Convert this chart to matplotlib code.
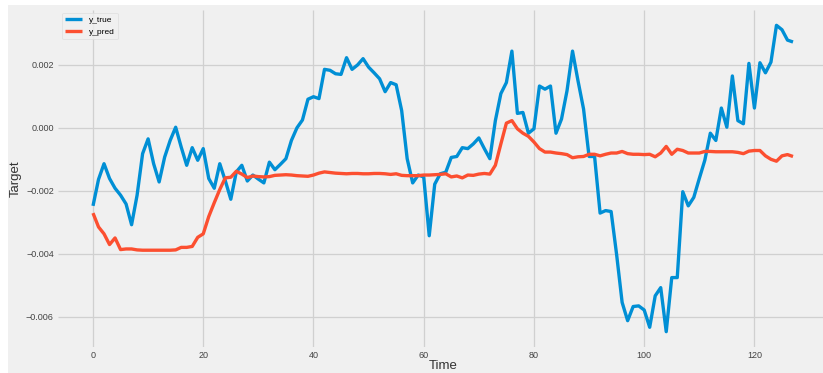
import numpy as np
import matplotlib
matplotlib.use("Agg")
import matplotlib.pyplot as plt
from matplotlib.patches import Rectangle

plt.style.use("fivethirtyeight")
plt.rcParams["font.family"] = ["Liberation Sans", "DejaVu Sans"]

# values, in units of 1e-3
y_true = np.array([
    -2.48, -1.64, -1.14, -1.61, -1.92, -2.14, -2.42, -3.08, -2.14, -0.82,
    -0.35, -1.14, -1.72, -0.93, -0.40, 0.02, -0.61, -1.19, -0.63, -1.03,
    -0.66, -1.61, -1.92, -1.14, -1.68, -2.27, -1.40, -1.19, -1.69, -1.50,
    -1.63, -1.75, -1.09, -1.33, -1.16, -0.98, -0.40, 0.00, 0.25, 0.91,
    0.99, 0.93, 1.86, 1.83, 1.72, 1.70, 2.23, 1.86, 2.00, 2.20,
    1.93, 1.75, 1.56, 1.15, 1.44, 1.37, 0.55, -0.98, -1.75, -1.50,
    -1.56, -3.43, -1.79, -1.46, -1.41, -0.94, -0.91, -0.63, -0.66, -0.51,
    -0.32, -0.66, -0.98, 0.23, 1.09, 1.44, 2.44, 0.46, 0.49, -0.17,
    -0.03, 1.33, 1.23, 1.33, -0.17, 0.28, 1.18, 2.44, 1.49, 0.60,
    -0.91, -0.91, -2.71, -2.63, -2.66, -4.03, -5.55, -6.13, -5.68, -5.66,
    -5.79, -6.34, -5.34, -5.08, -6.48, -4.76, -4.76, -2.03, -2.48, -2.21,
    -1.61, -1.03, -0.17, -0.40, 0.63, 0.02, 1.65, 0.23, 0.13, 2.05,
    0.63, 2.07, 1.75, 2.09, 3.26, 3.12, 2.79, 2.73,
]) * 1e-3

y_pred = np.array([
    -2.71, -3.15, -3.37, -3.71, -3.50, -3.87, -3.85, -3.85, -3.88, -3.89,
    -3.89, -3.89, -3.89, -3.89, -3.89, -3.88, -3.80, -3.80, -3.77, -3.48,
    -3.37, -2.82, -2.38, -1.96, -1.59, -1.57, -1.38, -1.47, -1.58, -1.53,
    -1.55, -1.56, -1.55, -1.51, -1.50, -1.49, -1.50, -1.52, -1.53, -1.54,
    -1.50, -1.44, -1.40, -1.42, -1.44, -1.45, -1.46, -1.45, -1.45, -1.46,
    -1.46, -1.45, -1.45, -1.46, -1.48, -1.46, -1.51, -1.52, -1.52, -1.52,
    -1.50, -1.50, -1.49, -1.48, -1.46, -1.56, -1.53, -1.59, -1.50, -1.51,
    -1.47, -1.45, -1.47, -1.19, -0.51, 0.15, 0.23, -0.03, -0.17, -0.27,
    -0.45, -0.66, -0.77, -0.77, -0.80, -0.82, -0.85, -0.95, -0.92, -0.91,
    -0.84, -0.84, -0.89, -0.84, -0.80, -0.80, -0.75, -0.82, -0.84, -0.84,
    -0.85, -0.84, -0.92, -0.80, -0.59, -0.84, -0.68, -0.72, -0.80, -0.80,
    -0.80, -0.75, -0.75, -0.76, -0.76, -0.76, -0.76, -0.78, -0.82, -0.74,
    -0.72, -0.72, -0.89, -1.00, -1.06, -0.89, -0.85, -0.91,
]) * 1e-3

t = np.arange(len(y_true))

W, H = 823, 373
fig = plt.figure(figsize=(W / 100, H / 100), dpi=100)
fig.patch.set_facecolor("white")
fig.patches.append(Rectangle((8 / W, 0), 1, 1 - 5 / H, transform=fig.transFigure,
                             facecolor="#f0f0f0", edgecolor="none", zorder=-10))

ax = fig.add_axes([58 / W, 1 - 347 / H, 770 / W, 337 / H])
ax.set_facecolor("#f0f0f0")

ax.plot(t, y_true, color="#008fd5", linewidth=2.4, label="y_true")
ax.plot(t, y_pred, color="#fc4f30", linewidth=2.4, label="y_pred")

ax.set_xlabel("Time", fontsize=9.5, labelpad=0, color="#333333")
ax.set_ylabel("Target", fontsize=9.5, labelpad=3, color="#333333")
ax.tick_params(axis="both", labelsize=6.5, colors="#444444", pad=3, length=0)
ax.grid(True, color="#d0d0d0", linewidth=0.9)
for s in ax.spines.values():
    s.set_visible(False)

leg = ax.legend(loc="upper left", bbox_to_anchor=(0.005, 0.992), borderaxespad=0,
                fontsize=6, frameon=True, fancybox=True)
leg.get_frame().set_facecolor("#f0f0f0")
leg.get_frame().set_edgecolor("#dddddd")
leg.get_frame().set_linewidth(0.6)

fig.savefig("out.png", dpi=100, facecolor=fig.get_facecolor())
